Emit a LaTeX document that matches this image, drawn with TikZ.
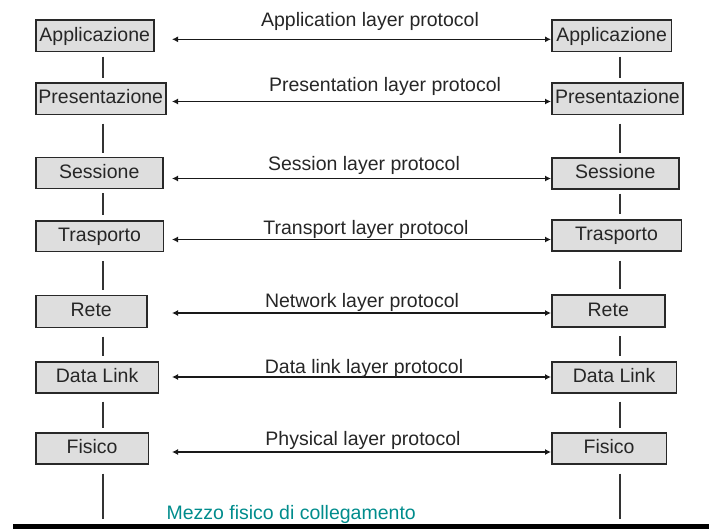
\documentclass[tikz,border=0pt]{standalone}
\usepackage{fontspec}
\setmainfont{Liberation Sans}
\usetikzlibrary{arrows.meta,calc}
\definecolor{boxfill}{RGB}{222,222,222}
\definecolor{boxline}{RGB}{40,40,40}
\definecolor{mediumtext}{RGB}{0,140,140}
\begin{document}
\begin{tikzpicture}[x=1pt,y=-1pt,
  font=\fontsize{19.5}{22}\selectfont,
  layerbox/.style={draw=boxline, line width=1.5pt, fill=boxfill, inner sep=0pt,
    text=black!85, anchor=north west, text height=14.5pt, text depth=3.9pt},
  link/.style={draw=black!80, line width=1.3pt},
  proto/.style={draw=black!90, line width=1.4pt, {Latex[length=6pt,width=6pt]}-{Latex[length=6pt,width=6pt]}},
  protolabel/.style={anchor=base, text=black!85}]
\useasboundingbox (0,0) rectangle (709,528);

% protocol stack, left host
\node[layerbox, minimum width=118pt,   minimum height=31.4pt] (lApp)  at (35,19.3)  {Applicazione};
\node[layerbox, minimum width=130pt,   minimum height=31.7pt] (lPres) at (35,82)    {Presentazione};
\node[layerbox, minimum width=127pt,   minimum height=31pt]   (lSes)  at (35,156.5) {Sessione};
\node[layerbox, minimum width=127.7pt, minimum height=30.7pt] (lTra)  at (35,220)   {Trasporto};
\node[layerbox, minimum width=111pt,   minimum height=32pt]   (lRete) at (35,294.5) {Rete};
\node[layerbox, minimum width=122.7pt, minimum height=31pt]   (lDL)   at (35,361)   {Data Link};
\node[layerbox, minimum width=112.7pt, minimum height=31pt]   (lFis)  at (35,432)   {Fisico};

% protocol stack, right host
\node[layerbox, minimum width=119.7pt, minimum height=31.4pt] (rApp)  at (551,19.3) {Applicazione};
\node[layerbox, minimum width=131.3pt, minimum height=31.7pt] (rPres) at (551,82)   {Presentazione};
\node[layerbox, minimum width=127pt,   minimum height=31pt]   (rSes)  at (551,157)  {Sessione};
\node[layerbox, minimum width=129.7pt, minimum height=31pt]   (rTra)  at (551,219)  {Trasporto};
\node[layerbox, minimum width=113pt,   minimum height=32pt]   (rRete) at (551,294)  {Rete};
\node[layerbox, minimum width=124.7pt, minimum height=31pt]   (rDL)   at (551,361)  {Data Link};
\node[layerbox, minimum width=114.7pt, minimum height=31pt]   (rFis)  at (551,432)  {Fisico};

% physical medium
\node[fill=black, inner sep=0pt, minimum width=696.3pt, minimum height=5pt, anchor=north west] (bar) at (12.7,523.3) {};
\node[anchor=base west, text=mediumtext] (medium) at (163,519) {Mezzo fisico di collegamento};

% vertical columns of each stack
\coordinate (colL) at (103,0);
\coordinate (colR) at (620,0);
\foreach \s/\col in {l/colL, r/colR}{
  \draw[link, shorten <=4.3pt, shorten >=4pt]   (\col |- \s App.south)  -- (\col |- \s Pres.north);
  \draw[link, shorten <=8.5pt, shorten >=4pt]   (\col |- \s Pres.south) -- (\col |- \s Ses.north);
  \draw[link, shorten <=4.2pt, shorten >=5pt]   (\col |- \s Ses.south)  -- (\col |- \s Tra.north);
  \draw[link, shorten <=9pt,   shorten >=5pt]   (\col |- \s Tra.south)  -- (\col |- \s Rete.north);
  \draw[link, shorten <=8.5pt, shorten >=5pt]   (\col |- \s Rete.south) -- (\col |- \s DL.north);
  \draw[link, shorten <=8pt,   shorten >=4pt]   (\col |- \s DL.south)   -- (\col |- \s Fis.north);
  \draw[link, shorten <=9pt,   shorten >=4pt]   (\col |- \s Fis.south)  -- (\col |- bar.north);
}

% peer-to-peer protocols
\coordinate (aApp)  at (172,39.3);
\coordinate (aPres) at (172,101.5);
\coordinate (aSes)  at (172,178.5);
\coordinate (aTra)  at (172,239.5);
\coordinate (aRete) at (172,313);
\coordinate (aDL)   at (172,377);
\coordinate (aFis)  at (172,452);
\draw[proto] (aApp)  -- (rApp.west |- aApp);
\draw[proto] (aPres) -- (rPres.west |- aPres);
\draw[proto] (aSes)  -- (rSes.west |- aSes);
\draw[proto] (aTra)  -- (rTra.west |- aTra);
\draw[proto] (aRete) -- (rRete.west |- aRete);
\draw[proto] (aDL)   -- (rDL.west |- aDL);
\draw[proto] (aFis)  -- (rFis.west |- aFis);

\node[protolabel] (tApp)  at (370,26.7) {Application layer protocol};
\node[protolabel] (tPres) at (385,91)   {Presentation layer protocol};
\node[protolabel] (tSes)  at (364,170)  {Session layer protocol};
\node[protolabel] (tTra)  at (366,234)  {Transport layer protocol};
\node[protolabel] (tRete) at (362,307)  {Network layer protocol};
\node[protolabel] (tDL)   at (364,373)  {Data link layer protocol};
\node[protolabel] (tFis)  at (363,445)  {Physical layer protocol};
\end{tikzpicture}
\end{document}
